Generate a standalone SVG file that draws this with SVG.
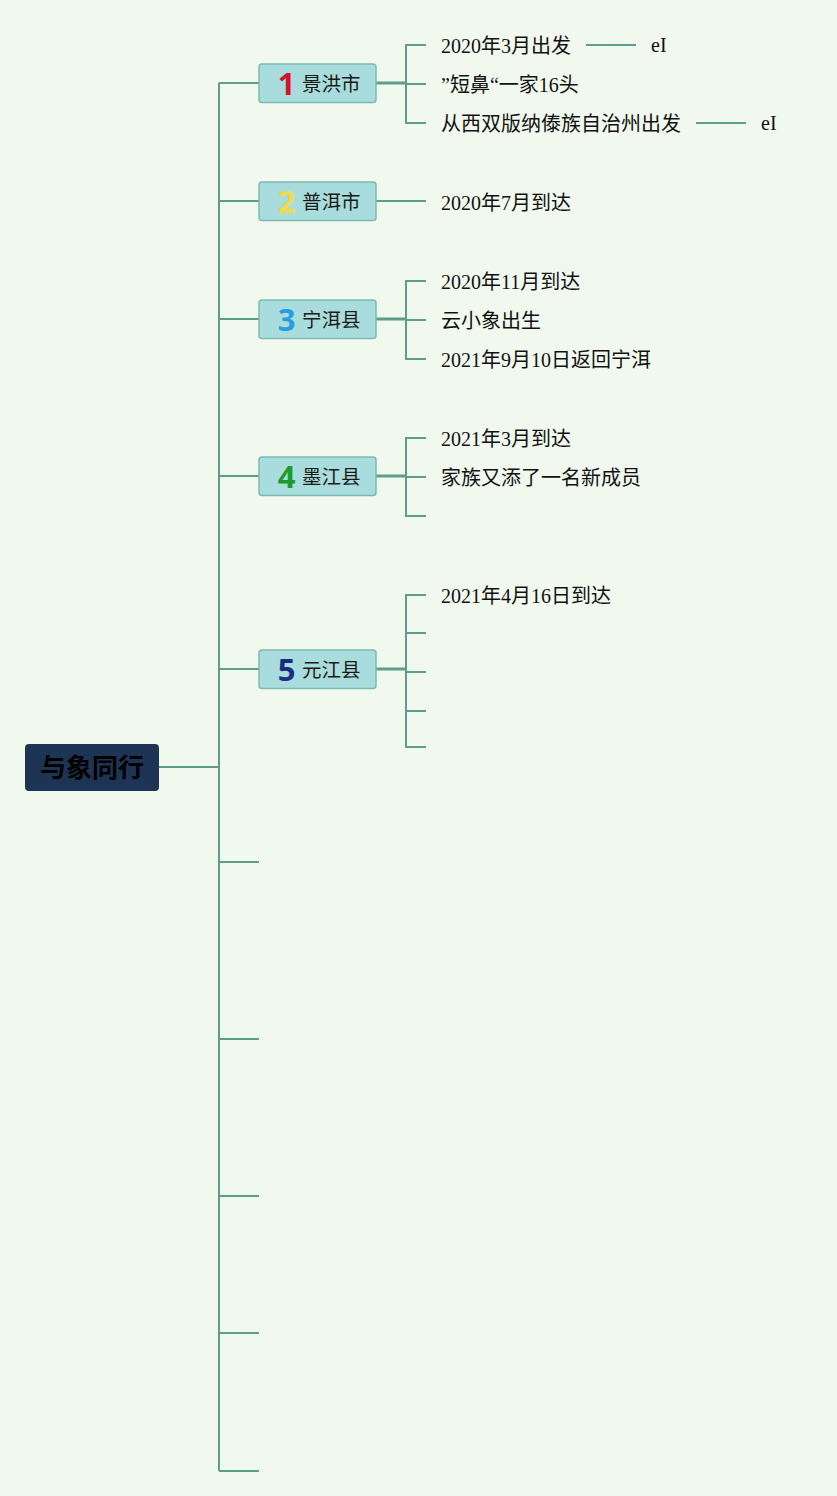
<svg xmlns="http://www.w3.org/2000/svg" width="837" height="1496" viewBox="0 0 837 1496">
<style>
.ln{fill:none;stroke:#5f9c8c;stroke-width:2}
.lk{fill:none;stroke:#5f9c8c;stroke-width:3}
.box{fill:#a9dcdc;stroke:#7db9b1;stroke-width:1.5}
.tl{font-family:"Noto Sans CJK SC","Noto Sans",sans-serif;font-size:19.5px;fill:#1a1a1a}
.num{font-family:"Noto Sans","Open Sans",sans-serif;font-weight:bold;font-size:31px;text-anchor:middle}
.ch{font-family:"Liberation Serif","Noto Sans CJK SC",serif;font-size:20px;fill:#111}
</style>
<rect width="837" height="1496" fill="#f1f9ef"/>
<g id="connectors">
<path class="ln" d="M159 767H219M219 83V1471M219 83H259M219 201H259M219 319H259M219 476H259M219 669H259M219 862H259M219 1039H259M219 1196H259M219 1333H259M219 1471H259"/>
<path class="lk" d="M376 83H406M376 319H406M376 476H406M376 669H406"/>
<path class="ln" d="M376 201H426"/>
<path class="ln" d="M426 45H406V123H426M406 84H426"/>
<path class="ln" d="M586 45H636M696 123H746"/>
<path class="ln" d="M426 281H406V359H426M406 320H426"/>
<path class="ln" d="M426 438H406V516H426M406 477H426"/>
<path class="ln" d="M426 595H406V747H426M406 633H426M406 672H426M406 711H426"/>
</g>
<g id="root">
<rect x="25" y="744" width="134" height="47" rx="4" fill="#1e3455"/>
<text x="92" y="777" text-anchor="middle" font-family="Noto Sans CJK SC,sans-serif" font-weight="bold" font-size="26" fill="#000">与象同行</text>
</g>
<g id="t1">
<rect class="box" x="259" y="64" width="117" height="38.5" rx="3"/>
<text class="num" x="286.5" y="95" fill="#d3132c">1</text>
<text class="tl" x="302" y="91">景洪市</text>
</g>
<g id="t2">
<rect class="box" x="259" y="182" width="117" height="38.5" rx="3"/>
<text class="num" x="286.5" y="213" fill="#f2da4a">2</text>
<text class="tl" x="302" y="209">普洱市</text>
</g>
<g id="t3">
<rect class="box" x="259" y="300" width="117" height="38.5" rx="3"/>
<text class="num" x="286.5" y="331" fill="#269ee0">3</text>
<text class="tl" x="302" y="327">宁洱县</text>
</g>
<g id="t4">
<rect class="box" x="259" y="457" width="117" height="38.5" rx="3"/>
<text class="num" x="286.5" y="488" fill="#1c9a2c">4</text>
<text class="tl" x="302" y="484">墨江县</text>
</g>
<g id="t5">
<rect class="box" x="259" y="650" width="117" height="38.5" rx="3"/>
<text class="num" x="286.5" y="681" fill="#1b2d82">5</text>
<text class="tl" x="302" y="677">元江县</text>
</g>
<g id="c1a"><text class="ch" x="441" y="53">2020年3月出发</text></g>
<g id="c1a1"><text class="ch" x="651" y="52">eI</text></g>
<g id="c1b"><text class="ch" x="441" y="92">”短鼻“一家16头</text></g>
<g id="c1c"><text class="ch" x="441" y="131">从西双版纳傣族自治州出发</text></g>
<g id="c1c1"><text class="ch" x="761" y="130">eI</text></g>
<g id="c2a"><text class="ch" x="441" y="210">2020年7月到达</text></g>
<g id="c3a"><text class="ch" x="441" y="289">2020年11月到达</text></g>
<g id="c3b"><text class="ch" x="441" y="328">云小象出生</text></g>
<g id="c3c"><text class="ch" x="441" y="367">2021年9月10日返回宁洱</text></g>
<g id="c4a"><text class="ch" x="441" y="446">2021年3月到达</text></g>
<g id="c4b"><text class="ch" x="441" y="485">家族又添了一名新成员</text></g>
<g id="c5a"><text class="ch" x="441" y="603">2021年4月16日到达</text></g>
</svg>
